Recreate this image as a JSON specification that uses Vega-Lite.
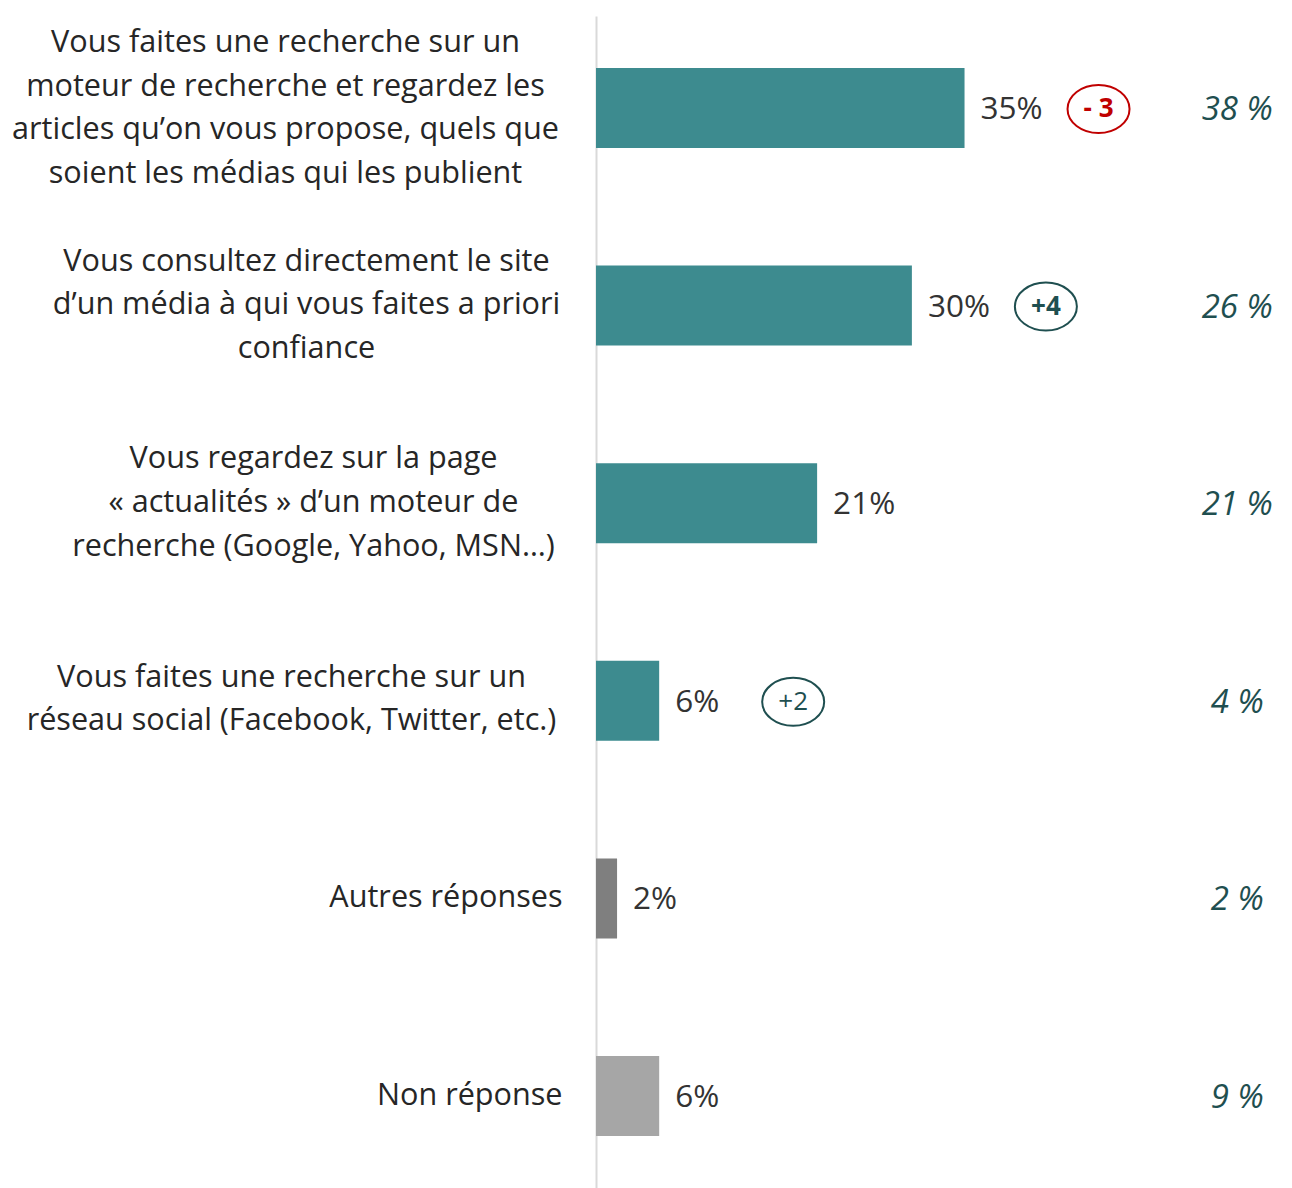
{
  "$schema": "https://vega.github.io/schema/vega-lite/v6.json",
  "width": 696,
  "height": 1172,
  "autosize": {"type": "none"},
  "padding": {"left": 596, "top": 16, "right": 0, "bottom": 0},
  "background": "white",
  "title": {"text": "2019", "anchor": "end", "dx": -22, "offset": 13, "baseline": "alphabetic", "fontSize": 33, "font": "Open Sans", "fontWeight": "normal", "color": "#1f4f50"},
  "config": {"view": {"stroke": null}, "font": "Open Sans"},
  "data": {"values": [
    {"cat": "Vous faites une recherche sur un|moteur de recherche et regardez les|articles qu’on vous propose, quels que|soient les médias qui les publient", "pct": 0.35, "kind": "main", "prev": "38 %", "delta": "- 3", "trend": "down"},
    {"cat": "Vous consultez directement le site|d’un média à qui vous faites a priori|confiance", "pct": 0.30, "kind": "main", "prev": "26 %", "delta": "+4", "trend": "up"},
    {"cat": "Vous regardez sur la page|« actualités » d’un moteur de|recherche (Google, Yahoo, MSN…)", "pct": 0.21, "kind": "main", "prev": "21 %", "delta": null, "trend": null},
    {"cat": "Vous faites une recherche sur un|réseau social (Facebook, Twitter, etc.)", "pct": 0.06, "kind": "main", "prev": "4 %", "delta": "+2", "trend": "up"},
    {"cat": "Autres réponses", "pct": 0.02, "kind": "autres", "prev": "2 %", "delta": null, "trend": null},
    {"cat": "Non réponse", "pct": 0.06, "kind": "nr", "prev": "9 %", "delta": null, "trend": null}
  ]},
  "encoding": {
    "y": {"field": "cat", "type": "nominal", "sort": null, "title": null,
      "scale": {"paddingInner": 0.595, "paddingOuter": 0.263},
      "axis": {"domain": true, "domainColor": "#d9d9d9", "domainWidth": 2, "ticks": false, "grid": false,
        "labelExpr": "split(datum.label, '|')", "labelFont": "Open Sans", "labelFontSize": 30.6, "labelLineHeight": 43.7, "labelColor": "#262626", "labelLimit": 700, "labelBaseline": "middle",
        "labelAlign": {"condition": {"test": "indexof(datum.value, '|') < 0", "value": "right"}, "value": "center"},
        "labelOffset": {"condition": [
          {"test": "indexof(datum.value, 'moteur de recherche et') >= 0", "value": -65},
          {"test": "indexof(datum.value, 'consultez') >= 0", "value": -44},
          {"test": "indexof(datum.value, 'regardez sur la page') >= 0", "value": -44},
          {"test": "indexof(datum.value, 'réseau social') >= 0", "value": -23}
        ], "value": 0},
        "labelPadding": {"condition": [
          {"test": "indexof(datum.value, 'moteur de recherche et') >= 0", "value": 311},
          {"test": "indexof(datum.value, 'consultez') >= 0", "value": 290},
          {"test": "indexof(datum.value, 'regardez sur la page') >= 0", "value": 283},
          {"test": "indexof(datum.value, 'réseau social') >= 0", "value": 305}
        ], "value": 34}
      }
    },
    "x": {"field": "pct", "type": "quantitative", "scale": {"domain": [0, 0.661]}, "axis": null}
  },
  "layer": [
    {"mark": {"type": "bar"},
     "encoding": {"color": {"field": "kind", "type": "nominal", "legend": null, "scale": {"domain": ["main", "autres", "nr"], "range": ["#3d8b8f", "#7f7f7f", "#a6a6a6"]}}}},
    {"mark": {"type": "text", "align": "left", "baseline": "middle", "dx": 16, "dy": 2, "fontSize": 31.5, "font": "Open Sans", "color": "#333333"},
     "encoding": {"text": {"field": "pct", "type": "quantitative", "format": ".0%"}}},
    {"transform": [{"filter": "datum.delta != null"}],
     "mark": {"type": "point", "shape": "M-1,0A1,0.774,0,1,1,1,0A1,0.774,0,1,1,-1,0Z", "size": 3844, "filled": false, "strokeWidth": 2, "xOffset": 134, "yOffset": 1, "opacity": 1},
     "encoding": {"stroke": {"field": "trend", "type": "nominal", "legend": null, "scale": {"domain": ["down", "up"], "range": ["#c00000", "#1f4f50"]}}}},
    {"transform": [{"filter": "datum.delta != null && datum.delta != '+2'"}],
     "mark": {"type": "text", "align": "center", "baseline": "middle", "dx": 134, "dy": 1, "fontSize": 26, "fontWeight": "bold", "font": "Open Sans"},
     "encoding": {"text": {"field": "delta"}, "fill": {"field": "trend", "type": "nominal", "legend": null, "scale": {"domain": ["down", "up"], "range": ["#c00000", "#1f4f50"]}}}},
    {"transform": [{"filter": "datum.delta == '+2'"}],
     "mark": {"type": "text", "align": "center", "baseline": "middle", "dx": 134, "dy": 1, "fontSize": 26, "font": "Open Sans"},
     "encoding": {"text": {"field": "delta"}, "fill": {"field": "trend", "type": "nominal", "legend": null, "scale": {"domain": ["down", "up"], "range": ["#c00000", "#1f4f50"]}}}},
    {"mark": {"type": "text", "align": "center", "baseline": "middle", "dy": 2, "fontSize": 33, "fontStyle": "italic", "font": "Open Sans", "color": "#1f4f50"},
     "encoding": {"x": {"datum": 0.609, "type": "quantitative"}, "text": {"field": "prev"}}}
  ]
}
